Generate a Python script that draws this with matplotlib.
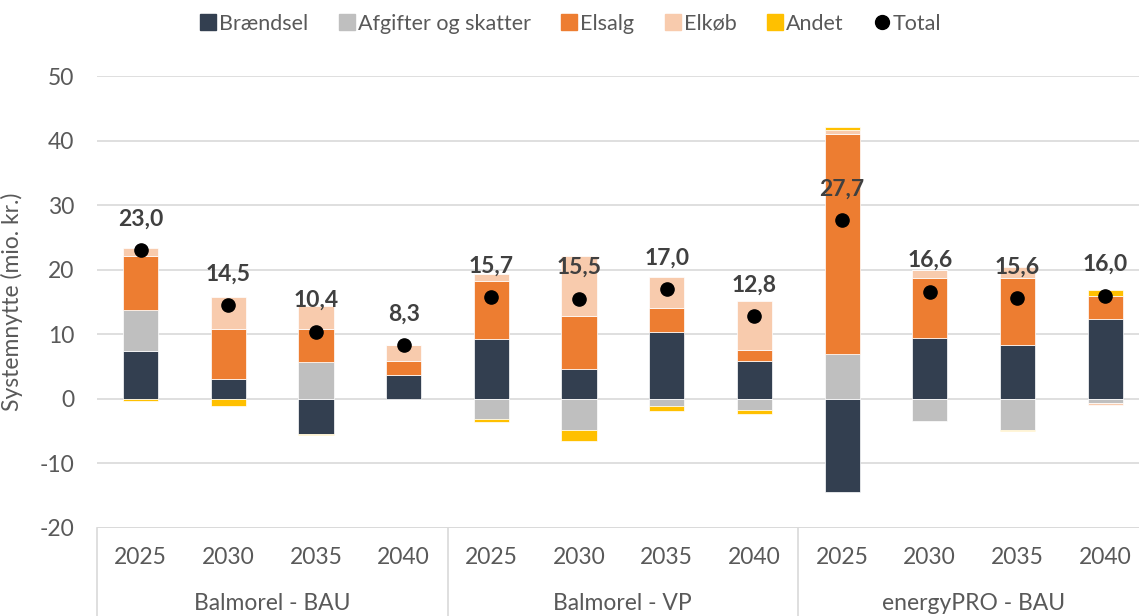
import numpy as np
import matplotlib.pyplot as plt
from matplotlib.lines import Line2D
from matplotlib import transforms

plt.rcParams["font.family"] = ["Lato", "DejaVu Sans"]
plt.rcParams["axes.unicode_minus"] = False

groups = ["Balmorel - BAU", "Balmorel - VP", "energyPRO - BAU"]
years = ["2025", "2030", "2035", "2040"]

# mio. kr. per category (12 = 3 groups x 4 years)
braendsel = [7.4, 3.0, -5.5, 3.6, 9.3, 4.6, 10.3, 5.8, -14.5, 9.4, 8.4, 12.3]
afgifter = [6.3, 0.0, 5.7, 0.0, -3.2, -4.8, -1.2, -1.8, 6.9, -3.5, -4.8, -0.6]
elsalg = [8.4, 7.8, 5.1, 2.3, 9.0, 8.3, 3.8, 1.8, 34.1, 9.3, 10.3, 3.7]
elkoeb = [1.2, 4.9, 3.6, 2.5, 1.0, 9.2, 4.8, 7.5, 0.6, 1.3, 1.7, -0.3]
andet = [-0.3, -1.1, -0.1, 0.0, -0.4, -1.8, -0.7, -0.5, 0.5, 0.0, -0.2, 0.8]
total = [23.0, 14.5, 10.4, 8.3, 15.7, 15.5, 17.0, 12.8, 27.7, 16.6, 15.6, 16.0]

series = [
    ("Brændsel", braendsel, "#333F50"),
    ("Afgifter og skatter", afgifter, "#BFBFBF"),
    ("Elsalg", elsalg, "#ED7D31"),
    ("Elkøb", elkoeb, "#F8CBAD"),
    ("Andet", andet, "#FFC000"),
]

text_col = "#595959"
fs = 16.5
n = len(total)
x = np.arange(n)

fig = plt.figure(figsize=(11.39, 6.16), dpi=100)
ax = fig.add_axes([0.085, 0.1433, 0.9237, 0.733])

# stack positives upwards and negatives downwards, Excel style
pos_base = np.zeros(n)
neg_base = np.zeros(n)
for name, vals, col in series:
    v = np.array(vals, dtype=float)
    base = np.where(v >= 0, pos_base, neg_base)
    ax.bar(x, v, bottom=base, width=0.4, color=col, edgecolor="white",
           linewidth=0.5, zorder=2)
    pos_base += np.where(v >= 0, v, 0)
    neg_base += np.where(v < 0, v, 0)

ax.plot(x, total, "o", color="black", markersize=9.5, zorder=3)
for xi, t in zip(x, total):
    ax.annotate(f"{t:.1f}".replace(".", ","), (xi, t), xytext=(0, 15),
                textcoords="offset points", ha="center", va="bottom",
                fontsize=fs, fontweight="bold", color="#404040", zorder=4)

ax.set_xlim(-0.5, n - 0.5)
ax.set_ylim(-20, 50)
ax.set_yticks(np.arange(-20, 51, 10))
ax.yaxis.grid(True, color="#D9D9D9", linewidth=1.2, zorder=0)
ax.set_axisbelow(True)
for s in ["top", "right", "left", "bottom"]:
    ax.spines[s].set_visible(False)
ax.tick_params(axis="y", length=0, pad=16, labelsize=fs, labelcolor=text_col)
ax.tick_params(axis="x", length=0, labelbottom=False)
ax.set_ylabel("Systemnytte (mio. kr.)", fontsize=fs, color=text_col)
ax.yaxis.set_label_coords(-0.070, 0.5)

# two-level category axis below the plot
trans = transforms.blended_transform_factory(ax.transData, fig.transFigure)
ax.axhline(-20, color="#D9D9D9", linewidth=1.2, zorder=1)
y_bottom_ax = 0.1433
for b in [-0.5, 3.5, 7.5, 11.5]:
    ax.plot([b, b], [0.0, y_bottom_ax], transform=trans, color="#D9D9D9",
            linewidth=1.2, clip_on=False)
for i in range(n):
    ax.text(i, 1 - 557 / 616, years[i % 4], transform=trans, ha="center",
            va="center", fontsize=fs, color=text_col)
for g, name in enumerate(groups):
    ax.text(g * 4 + 1.5, 1 - 604 / 616, name, transform=trans, ha="center",
            va="center", fontsize=fs, color=text_col)

handles = [Line2D([], [], marker="s", linestyle="none", markersize=11,
                  color=col, label=name) for name, _, col in series]
handles.append(Line2D([], [], marker="o", linestyle="none", markersize=10,
                      color="black", label="Total"))
fig.legend(handles=handles, loc="center", bbox_to_anchor=(0.5, 1 - 24 / 616),
           ncol=6, frameon=False, fontsize=15.5, handletextpad=0.0,
           handlelength=1.0, columnspacing=1.3, labelcolor=text_col)

fig.savefig("out.png", dpi=100)
